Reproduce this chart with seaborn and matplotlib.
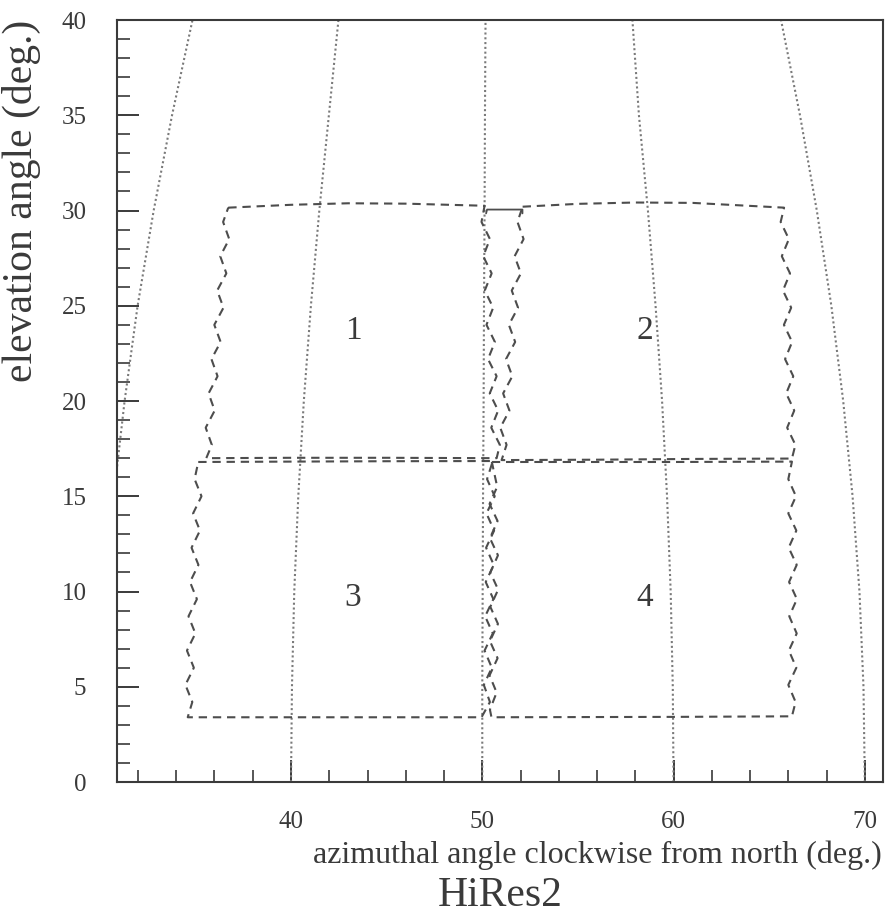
import numpy as np
import pandas as pd
import seaborn as sns
import matplotlib.pyplot as plt
from matplotlib.ticker import MultipleLocator

# Constant-azimuth grid lines (x position read at each elevation)
GRID_EL = [0, 5, 10, 15, 20, 25, 30, 35, 40]
GRID_AZ30 = [30.0, 30.09, 30.33, 30.73, 31.3, 31.98, 32.82, 33.78, 34.85]
GRID_AZ40 = [40.0, 40.05, 40.17, 40.38, 40.67, 41.04, 41.48, 41.98, 42.48]
GRID_AZ50 = [50.0, 50.0, 50.02, 50.04, 50.07, 50.09, 50.12, 50.14, 50.17]
GRID_AZ60 = [60.0, 59.96, 59.85, 59.66, 59.4, 59.06, 58.66, 58.19, 57.85]
GRID_AZ70 = [70.0, 69.93, 69.72, 69.36, 68.87, 68.25, 67.49, 66.61, 65.62]

# Mirror 1 field of view (top-left)
M1_AZ = [36.72, 40.0, 43.0, 46.0, 50.12,
         49.96, 50.4, 50.05, 50.49, 50.13, 50.57, 50.22, 50.66, 50.3, 50.75,
         50.39, 50.83, 50.47, 50.92, 50.75,
         45.0, 40.0, 35.57,
         35.86, 35.54, 36.01, 35.69, 36.16, 35.84, 36.32, 35.99, 36.47, 36.14,
         36.62, 36.3, 36.77, 36.45, 36.72]
M1_EL = [30.15, 30.3, 30.38, 30.36, 30.25,
         29.4, 28.5, 27.6, 26.7, 25.8, 24.9, 24.0, 23.1, 22.2, 21.3,
         20.4, 19.5, 18.6, 17.7, 17.0,
         17.02, 17.02, 17.0,
         17.7, 18.6, 19.5, 20.4, 21.3, 22.2, 23.1, 24.0, 24.9, 25.8,
         26.7, 27.6, 28.5, 29.4, 30.15]

# Mirror 2 field of view (top-right)
M2_AZ = [52.11, 55.0, 58.0, 61.0, 65.78,
         65.6, 66.03, 65.66, 66.09, 65.72, 66.15, 65.77, 66.2, 65.83, 66.26,
         65.89, 66.31, 65.94, 66.37, 66.19,
         61.0, 56.0, 51.01,
         51.27, 50.94, 51.42, 51.09, 51.57, 51.24, 51.72, 51.39, 51.87, 51.54,
         52.02, 51.69, 52.16, 51.84, 52.11]
M2_EL = [30.2, 30.35, 30.42, 30.4, 30.15,
         29.4, 28.5, 27.6, 26.7, 25.8, 24.9, 24.0, 23.1, 22.2, 21.3,
         20.4, 19.5, 18.6, 17.7, 16.98,
         16.96, 16.92, 16.9,
         17.7, 18.6, 19.5, 20.4, 21.3, 22.2, 23.1, 24.0, 24.9, 25.8,
         26.7, 27.6, 28.5, 29.4, 30.2]
BRACKET_AZ = [50.2, 50.25, 52.1, 52.1]
BRACKET_EL = [29.85, 30.05, 30.05, 29.85]

# Mirror 3 field of view (bottom-left)
M3_AZ = [35.15, 40.0, 45.0, 50.55,
         50.25, 50.65, 50.22, 50.62, 50.2, 50.6, 50.18, 50.58, 50.15, 50.55,
         50.12, 50.5, 50.08, 50.4, 49.96,
         45.0, 40.0, 34.6,
         34.84, 34.48, 34.92, 34.56, 35.0, 34.64, 35.08, 34.72, 35.16, 34.8,
         35.24, 34.88, 35.32, 34.96, 35.15]
M3_EL = [16.8, 16.82, 16.84, 16.85,
         15.9, 15.0, 14.1, 13.2, 12.3, 11.4, 10.5, 9.6, 8.7, 7.8,
         6.9, 6.0, 5.1, 4.2, 3.4,
         3.4, 3.4, 3.4,
         4.2, 5.1, 6.0, 6.9, 7.8, 8.7, 9.6, 10.5, 11.4, 12.3,
         13.2, 14.1, 15.0, 15.9, 16.8]

# Mirror 4 field of view (bottom-right)
M4_AZ = [50.5, 55.0, 60.0, 66.19,
         66.0, 66.4, 66.0, 66.42, 66.02, 66.44, 66.04, 66.45, 66.05, 66.44,
         66.03, 66.42, 66.0, 66.38, 66.19,
         60.0, 55.0, 50.48,
         50.4, 50.75, 50.38, 50.8, 50.4, 50.82, 50.42, 50.83, 50.42, 50.82,
         50.4, 50.8, 50.38, 50.78, 50.5]
M4_EL = [16.8, 16.8, 16.8, 16.82,
         15.9, 15.0, 14.1, 13.2, 12.3, 11.4, 10.5, 9.6, 8.7, 7.8,
         6.9, 6.0, 5.1, 4.2, 3.45,
         3.42, 3.41, 3.4,
         3.8, 4.7, 5.6, 6.5, 7.4, 8.3, 9.2, 10.1, 11.0, 11.9,
         12.8, 13.7, 14.6, 15.5, 16.8]

MIRROR_IDS = ["1", "2", "3", "4"]
LABEL_AZ = [43.25, 58.5, 43.2, 58.5]
LABEL_EL = [23.7, 23.7, 9.65, 9.65]

sns.set_theme(style="white")
plt.rcParams["font.family"] = ["Liberation Serif", "DejaVu Serif"]
ink = "#3a3a3a"

fig = plt.figure(figsize=(8.86, 9.22), dpi=100)
ax = fig.add_axes([0.132, 0.1518, 0.8646, 0.8265])

# grid curves
for xs in [GRID_AZ30, GRID_AZ40, GRID_AZ50, GRID_AZ60, GRID_AZ70]:
    sns.lineplot(x=xs, y=GRID_EL, sort=False, estimator=None, ax=ax,
                 color="#7a7a7a", linewidth=1.5, linestyle=(0, (1, 1.3)))

# mirror boundaries
for az, el in [(M1_AZ, M1_EL), (M2_AZ, M2_EL), (M3_AZ, M3_EL), (M4_AZ, M4_EL)]:
    df = pd.DataFrame({"az": az, "el": el})
    sns.lineplot(data=df, x="az", y="el", sort=False, estimator=None, ax=ax,
                 color="#4d4d4d", linewidth=1.5, linestyle=(0, (4, 2.8)))
sns.lineplot(x=BRACKET_AZ, y=BRACKET_EL, sort=False, estimator=None, ax=ax,
             color="#4d4d4d", linewidth=1.3)

for lab, x, y in zip(MIRROR_IDS, LABEL_AZ, LABEL_EL):
    ax.text(x, y, lab, ha="center", va="center", fontsize=24, color=ink)

ax.set_xlim(30.9, 70.95)
ax.set_ylim(0, 40)
ax.xaxis.set_major_locator(MultipleLocator(10))
ax.xaxis.set_minor_locator(MultipleLocator(2))
ax.yaxis.set_major_locator(MultipleLocator(5))
ax.yaxis.set_minor_locator(MultipleLocator(1))
ax.tick_params(which="both", direction="in", colors=ink, bottom=True, left=True,
               top=False, right=False)
ax.tick_params(which="major", length=16, width=1.4, labelsize=18)
ax.tick_params(which="minor", length=9, width=1.2)
ax.tick_params(axis="x", which="major", pad=21)
ax.tick_params(axis="y", which="major", pad=22)
for sp in ax.spines.values():
    sp.set_color(ink)
    sp.set_linewidth(1.5)

ax.set_xlabel("azimuthal angle clockwise from north (deg.)", fontsize=23, color=ink)
ax.xaxis.set_label_coords(0.627, -0.077)
ax.set_ylabel("elevation angle (deg.)", fontsize=30, color=ink)
ax.yaxis.set_label_coords(-0.124, 0.762)
ax.yaxis.label.set_va("center")

fig.text(0.564, 0.029, "HiRes2", ha="center", va="center", fontsize=30, color=ink)

fig.savefig("out.png", dpi=100)
